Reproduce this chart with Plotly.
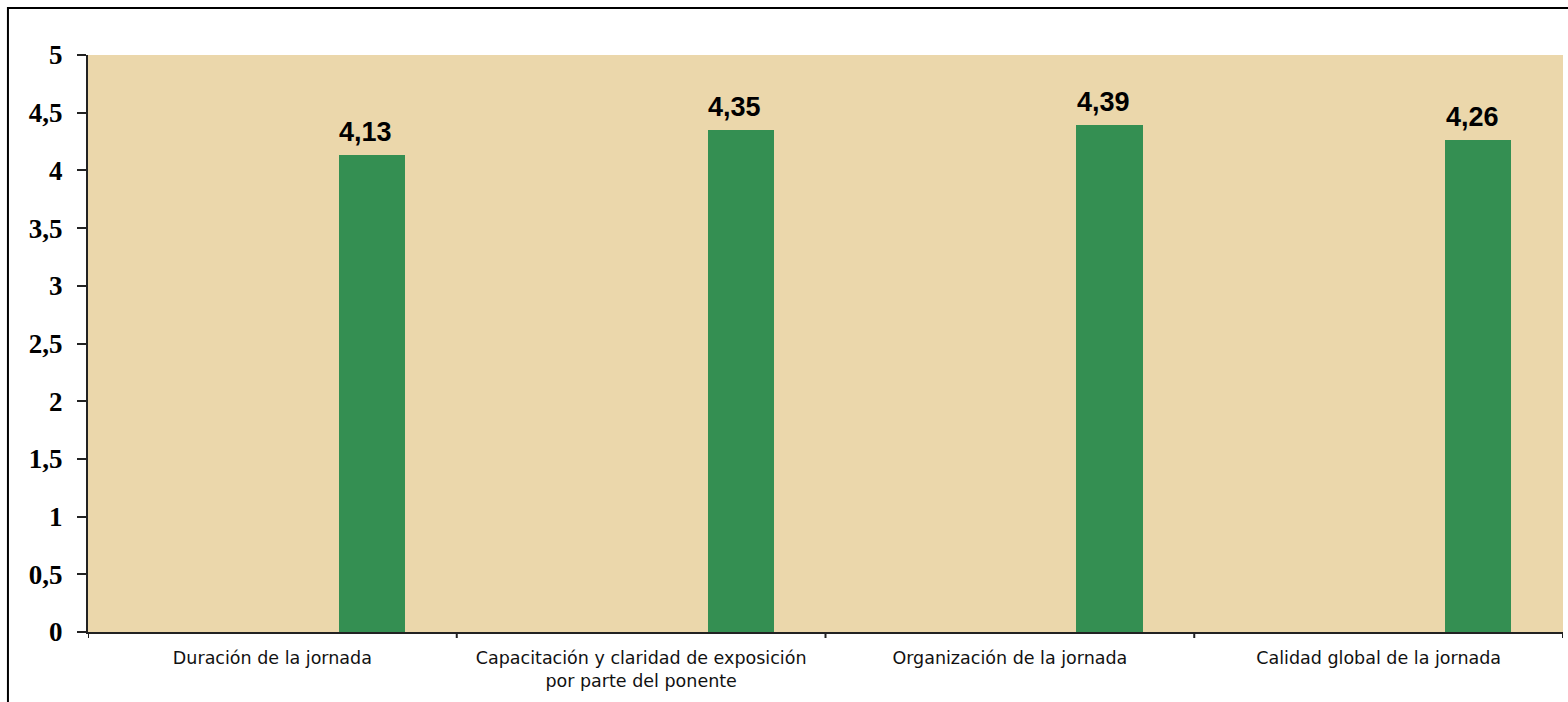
import plotly.graph_objects as go

categories = [
    "Duración de la jornada",
    "Capacitación y claridad de exposición<br>por parte del ponente",
    "Organización de la jornada",
    "Calidad global de la jornada",
]
scores = [4.13, 4.35, 4.39, 4.26]
value_labels = ["4,13", "4,35", "4,39", "4,26"]

BAR_WIDTH = 0.18          # fraction of a category slot
BAR_OFFSET = 0.18         # left edge of bar relative to category centre

fig = go.Figure()
fig.add_trace(go.Bar(
    x=list(range(len(categories))),
    y=scores,
    width=BAR_WIDTH,
    offset=BAR_OFFSET,
    marker=dict(color="#348F52", line=dict(width=0)),
    hoverinfo="skip",
))

# value labels above each bar
for i, (v, t) in enumerate(zip(scores, value_labels)):
    fig.add_annotation(
        x=i + BAR_OFFSET + BAR_WIDTH / 2, y=v, xref="x", yref="y",
        text="<b>" + t + "</b>", showarrow=False, yanchor="bottom",
        yshift=6, xshift=-6,
        font=dict(family="Liberation Sans", size=27, color="#000000"),
    )

# outer frame of the chart
fig.add_shape(
    type="rect", xref="paper", yref="paper",
    x0=(8 - 88) / 1474, x1=1.1, y0=-0.3, y1=1 + (55 - 8) / 577,
    line=dict(color="#000000", width=2), fillcolor="rgba(0,0,0,0)", layer="below",
)

fig.update_layout(
    width=1568, height=702,
    margin=dict(l=88, r=5, t=55, b=70),
    paper_bgcolor="#FFFFFF",
    plot_bgcolor="#EBD7AB",
    separators=",.",
    showlegend=False,
    bargap=0,
    xaxis=dict(
        tickmode="array",
        tickvals=list(range(len(categories))),
        ticktext=categories,
        range=[-0.5, len(categories) - 0.5],
        showgrid=False, zeroline=False,
        showline=True, linecolor="#222222", linewidth=2,
        ticks="",
        ticklabelstandoff=9,
        tickfont=dict(family="DejaVu Sans", size=17.5, color="#111111"),
        fixedrange=True,
    ),
    yaxis=dict(
        range=[0, 5], dtick=0.5, tick0=0,
        showgrid=False, zeroline=False,
        showline=True, linecolor="#222222", linewidth=2,
        ticks="outside", ticklen=9, tickwidth=2, tickcolor="#222222",
        tickfont=dict(family="Liberation Serif", size=27, color="#000000",
                      weight="bold"),
        ticklabelstandoff=9,
        fixedrange=True,
    ),
)

# category boundary ticks below the axis
for b in [-0.5, 0.5, 1.5, 2.5, 3.5]:
    fig.add_shape(
        type="line", xref="x", yref="paper",
        x0=b, x1=b, y0=0, y1=-6 / 577,
        line=dict(color="#222222", width=2),
    )

fig.write_html("out.html")
